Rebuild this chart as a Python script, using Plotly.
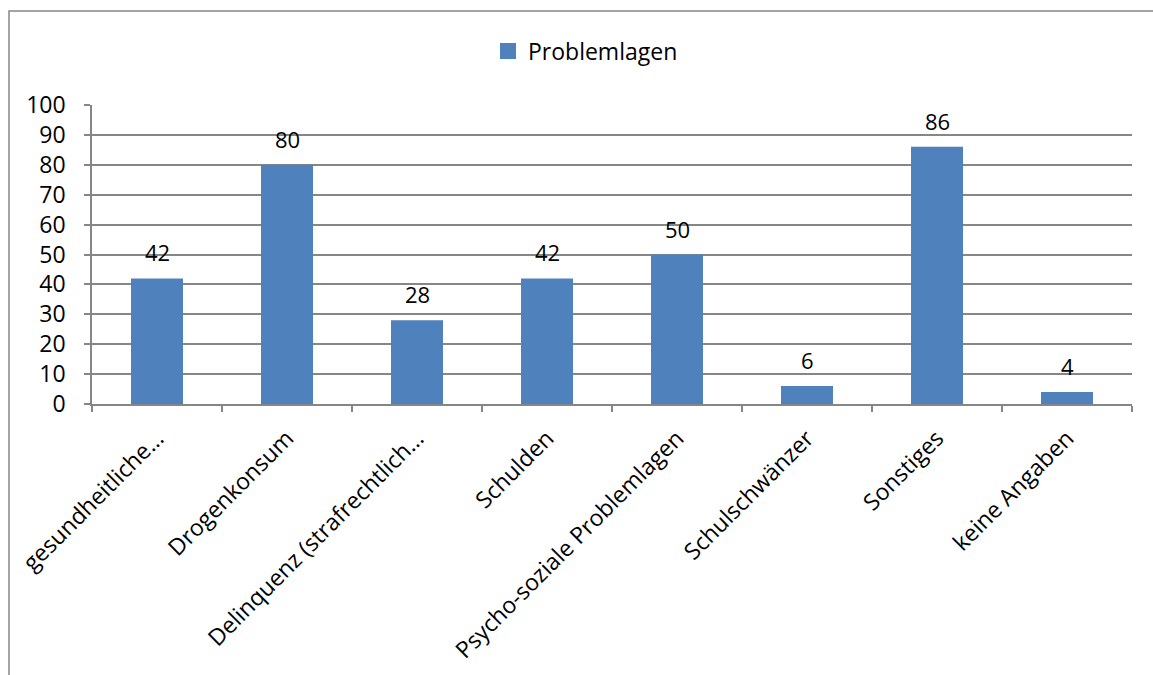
import plotly.graph_objects as go

categories = [
    "gesundheitliche…",
    "Drogenkonsum",
    "Delinquenz (strafrechtlich…",
    "Schulden",
    "Psycho-soziale Problemlagen",
    "Schulschwänzer",
    "Sonstiges",
    "keine Angaben",
]
values = [42, 80, 28, 42, 50, 6, 86, 4]
series_name = "Problemlagen"
y_ticks = [0, 10, 20, 30, 40, 50, 60, 70, 80, 90, 100]

W, H = 1153, 675
L, R, T, B = 92, 21, 105, 271
GRAY = "#868686"
BLUE = "#4F81BD"
FONT = "Open Sans"
FS = 23

fig = go.Figure()
fig.add_trace(go.Bar(
    x=categories, y=values, name=series_name,
    marker=dict(color=BLUE, line=dict(width=0)),
    showlegend=False,
))
# legend entry with a larger square swatch
fig.add_trace(go.Scatter(
    x=[None], y=[None], mode="markers", name=series_name,
    marker=dict(symbol="square", size=16, color=BLUE),
    showlegend=True,
))

# value labels above each bar
for c, v in zip(categories, values):
    fig.add_annotation(x=c, y=v, text=str(v), showarrow=False,
                       yanchor="middle", yshift=26,
                       font=dict(family=FONT, size=22, color="#000000"))

pw, ph = W - L - R, H - T - B
def px_x(p):
    return (p - L) / pw
def px_y(p):
    return (H - B - p) / ph

# chart frame
fig.add_shape(type="rect", xref="paper", yref="paper",
              x0=px_x(9), x1=px_x(1170), y0=px_y(690), y1=px_y(11),
              line=dict(color=GRAY, width=1.5), layer="below")

fig.update_layout(
    width=W, height=H,
    margin=dict(l=L, r=R, t=T, b=B, autoexpand=False),
    paper_bgcolor="white", plot_bgcolor="white",
    font=dict(family=FONT, size=FS, color="#000000"),
    bargap=0.6,
    legend=dict(orientation="h", x=px_x(488), xanchor="left",
                y=px_y(51), yanchor="middle",
                font=dict(family=FONT, size=FS), itemwidth=30,
                bgcolor="rgba(0,0,0,0)"),
    xaxis=dict(
        type="category", tickson="boundaries", ticks="outside",
        ticklen=6, tickcolor=GRAY, tickwidth=1.5,
        showline=True, linecolor=GRAY, linewidth=1.5,
        tickangle=-45, tickfont=dict(family=FONT, size=FS),
        showgrid=False, ticklabelstandoff=10,
    ),
    yaxis=dict(
        range=[0, 100], tickvals=y_ticks, ticks="outside",
        ticklen=6, tickcolor=GRAY, tickwidth=1.5,
        showline=True, linecolor=GRAY, linewidth=1.5,
        showgrid=True, gridcolor=GRAY, gridwidth=1.5,
        zeroline=False, ticklabelstandoff=14,
        tickfont=dict(family=FONT, size=FS),
    ),
)

fig.write_html("out.html")
